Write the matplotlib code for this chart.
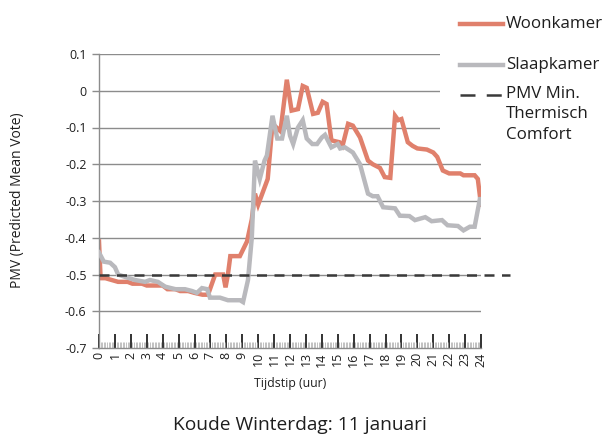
import matplotlib
matplotlib.use("Agg")
import matplotlib.pyplot as plt
from matplotlib.lines import Line2D
from matplotlib.patches import Rectangle
from matplotlib.ticker import MultipleLocator

plt.rcParams['font.family'] = ['Open Sans', 'DejaVu Sans']

# ---- data (hour of day, PMV) ----
hours_woon = [0.0, 0.1, 0.4, 0.8, 1.2, 1.8, 2.1, 2.7, 3.0, 3.5, 4.0, 4.3, 4.8, 5.1, 5.6, 6.0,
              6.5, 6.85, 7.3, 7.8, 7.95, 8.1, 8.25, 8.85, 9.3, 9.6, 9.8, 10.0, 10.6, 10.9,
              11.4, 11.8, 12.1, 12.5, 12.8, 13.05, 13.45, 13.75, 14.05, 14.3, 14.6, 15.1,
              15.3, 15.65, 15.95, 16.4, 16.9, 17.2, 17.65, 17.95, 18.3, 18.6, 18.8, 19.0,
              19.4, 19.7, 20.0, 20.6, 21.0, 21.25, 21.6, 22.0, 22.7, 22.9, 23.6, 23.8, 24.0]
pmv_woon = [-0.41, -0.51, -0.51, -0.515, -0.52, -0.52, -0.525, -0.525, -0.53, -0.53, -0.53,
            -0.54, -0.54, -0.545, -0.545, -0.55, -0.555, -0.555, -0.50, -0.50, -0.535, -0.50,
            -0.45, -0.45, -0.41, -0.35, -0.28, -0.31, -0.24, -0.09, -0.11, 0.03, -0.054,
            -0.05, 0.013, 0.008, -0.063, -0.06, -0.03, -0.036, -0.135, -0.14, -0.15, -0.09,
            -0.095, -0.127, -0.19, -0.20, -0.21, -0.235, -0.237, -0.068, -0.08, -0.077,
            -0.14, -0.15, -0.157, -0.16, -0.168, -0.18, -0.217, -0.225, -0.225, -0.23,
            -0.23, -0.24, -0.31]

hours_slaap = [0.0, 0.3, 0.7, 1.0, 1.2, 1.6, 2.26, 2.9, 3.2, 3.7, 4.15, 4.8, 5.4, 5.85, 6.15,
               6.47, 6.8, 6.97, 7.6, 8.1, 8.86, 9.05, 9.36, 9.6, 9.8, 10.1, 10.4, 10.55, 10.9,
               11.2, 11.5, 11.8, 12.0, 12.2, 12.5, 12.8, 13.05, 13.4, 13.7, 14.0, 14.2, 14.6,
               15.0, 15.15, 15.45, 15.95, 16.4, 16.9, 17.2, 17.5, 17.85, 18.6, 18.9, 19.5,
               19.85, 20.5, 20.9, 21.55, 21.9, 22.55, 22.9, 23.3, 23.6, 23.95, 24.0]
pmv_slaap = [-0.44, -0.465, -0.468, -0.48, -0.50, -0.506, -0.515, -0.52, -0.515, -0.52,
             -0.533, -0.54, -0.54, -0.545, -0.55, -0.537, -0.54, -0.563, -0.563, -0.57,
             -0.57, -0.575, -0.515, -0.40, -0.19, -0.24, -0.19, -0.176, -0.068, -0.13,
             -0.13, -0.068, -0.122, -0.145, -0.10, -0.08, -0.13, -0.145, -0.145, -0.127,
             -0.12, -0.154, -0.145, -0.157, -0.154, -0.168, -0.20, -0.28, -0.287, -0.287,
             -0.317, -0.32, -0.34, -0.341, -0.352, -0.344, -0.355, -0.352, -0.366, -0.368,
             -0.38, -0.37, -0.37, -0.29, -0.30]

pmv_min = -0.5
hour_ticks = list(range(0, 25))
y_ticks = [0.1, 0, -0.1, -0.2, -0.3, -0.4, -0.5, -0.6, -0.7]
y_ticklabels = ["0.1", "0", "-0.1", "-0.2", "-0.3", "-0.4", "-0.5", "-0.6", "-0.7"]

c_woon = "#E0806C"
c_slaap = "#B9B9BD"
c_dash = "#3a3a3a"
c_grid = "#8c8c8c"
c_text = "#1e1e1e"

fig = plt.figure(figsize=(6.06, 4.37), dpi=100)
ax = fig.add_axes([99/606, 1-348/437, (481-99)/606, (348-54)/437])

for yt in y_ticks[:-1]:
    ax.axhline(yt, color=c_grid, lw=1.0, zorder=1)

ax.plot(hours_slaap, pmv_slaap, color=c_slaap, lw=3.2, zorder=3, solid_joinstyle='miter')
ax.plot(hours_woon, pmv_woon, color=c_woon, lw=3.2, zorder=2, solid_joinstyle='miter')
ax.axhline(pmv_min, xmin=0, xmax=(510-99)/(481-99), color=c_dash, lw=1.8,
           dashes=(4, 3), clip_on=False, zorder=4)

ax.set_xlim(0, 24)
ax.set_ylim(-0.7, 0.1)
ax.set_yticks(y_ticks)
ax.set_yticklabels(y_ticklabels)
ax.set_xticks(hour_ticks)
ax.set_xticklabels([str(h) for h in hour_ticks], rotation=90)
ax.xaxis.set_minor_locator(MultipleLocator(1/10))

for s in ['top', 'right']:
    ax.spines[s].set_visible(False)
for s in ['left', 'bottom']:
    ax.spines[s].set_color(c_grid)
    ax.spines[s].set_linewidth(1.0)

ax.tick_params(axis='y', direction='out', length=5, width=1, color=c_grid,
               labelsize=9, pad=4, labelcolor=c_text)
ax.tick_params(axis='x', which='major', direction='in', length=10, width=1.3,
               color='#222222', labelsize=9, pad=3, labelcolor=c_text)
ax.tick_params(axis='x', which='minor', direction='in', length=4, width=0.5,
               color='#a8a8a8')

fig.text(18/606, 1-200/437, "PMV (Predicted Mean Vote)", rotation=90,
         ha='center', va='center', fontsize=10, color=c_text)
fig.text(290/606, 1-383/437, "Tijdstip (uur)", ha='center', va='center',
         fontsize=8.8, color=c_text)
fig.text(300/606, 1-425/437, "Koude Winterdag: 11 januari", ha='center', va='center',
         fontsize=13.8, color=c_text)

# legend area (white background over gridlines)
fig.add_artist(Rectangle((440/606, 1-152/437), 166/606, 152/437,
                         transform=fig.transFigure, facecolor='white',
                         edgecolor='none', zorder=5))
fig.add_artist(Line2D([460/606, 503/606], [1-24/437, 1-24/437], color=c_woon, lw=3.2,
                      transform=fig.transFigure, zorder=6))
fig.add_artist(Line2D([460/606, 503/606], [1-65/437, 1-65/437], color=c_slaap, lw=3.2,
                      transform=fig.transFigure, zorder=6))
fig.add_artist(Line2D([460/606, 503/606], [1-95/437, 1-95/437], color=c_dash, lw=1.8,
                      dashes=(6, 4.5), transform=fig.transFigure, zorder=6))
leg_fs = 12.2
fig.text(506/606, 1-24/437, "Woonkamer", ha='left', va='center', fontsize=leg_fs,
         color=c_text, zorder=7)
fig.text(506/606, 1-65/437, "Slaapkamer", ha='left', va='center', fontsize=leg_fs,
         color=c_text, zorder=7)
fig.text(506/606, 1-86/437, "PMV Min.\nThermisch\nComfort", ha='left', va='top',
         fontsize=leg_fs, color=c_text, linespacing=1.37, zorder=7)

fig.savefig("out.png", dpi=100)
